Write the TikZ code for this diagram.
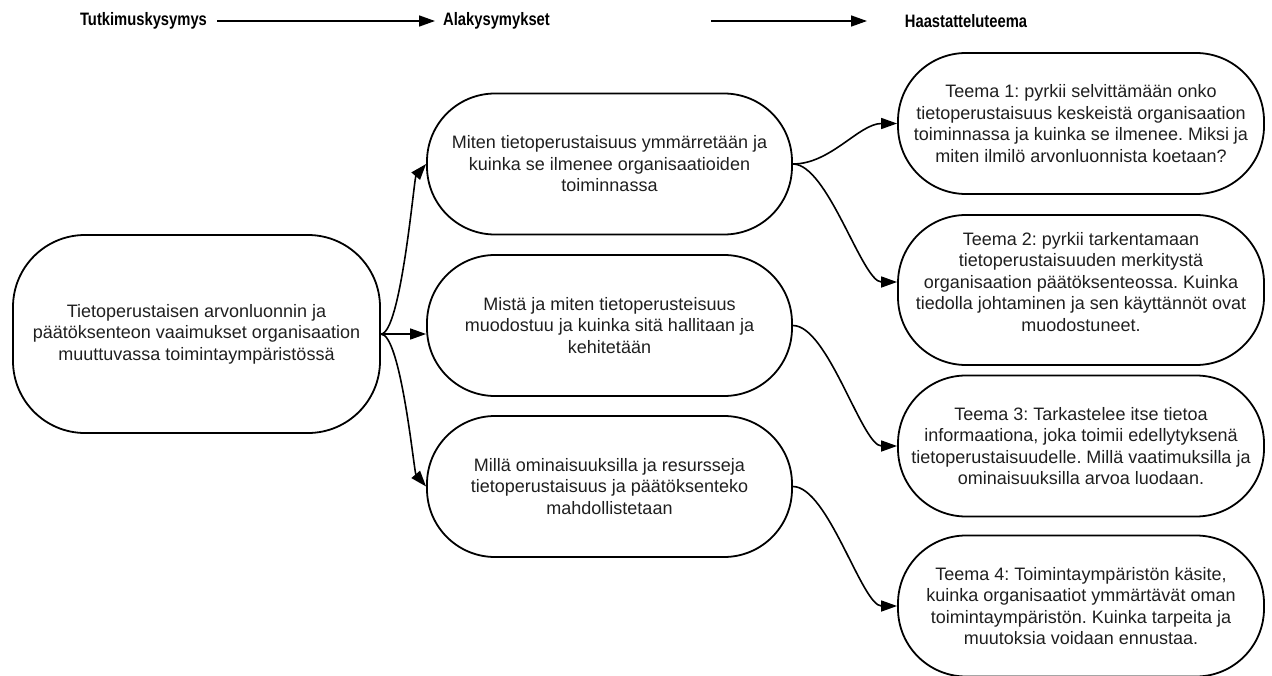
\documentclass[tikz,border=0pt]{standalone}
\usepackage{fontspec}
\setmainfont{Liberation Sans}
\newfontfamily\headfont{Liberation Sans}[FakeStretch=0.82]
\usetikzlibrary{arrows.meta}
\frenchspacing
\begin{document}
\begin{tikzpicture}[x=1pt,y=-1pt,
  box/.style={draw=black, line width=1.8pt, rounded corners=68pt,
    minimum width=365pt, minimum height=141pt, align=center, inner sep=0pt,
    font=\fontsize{18}{21.5}\selectfont, text=black!88},
  boxtext/.style={align=center, inner sep=0pt,
    font=\fontsize{18}{21.5}\selectfont, text=black!88},
  head/.style={font=\headfont\fontsize{18}{20}\selectfont\bfseries, inner sep=0pt},
  conn/.style={line width=1.6pt, -{Triangle[length=16pt,width=11pt]}},
]
\useasboundingbox (0,0) rectangle (1272,675);

% column headings
\node[head] (h1) at (143.5,21) {Tutkimuskysymys};
\node[head, anchor=west] (h2) at (443,21) {Alakysymykset};
\node[head] (h3) at (966,21) {Haastatteluteema};
\coordinate (a2s) at (711,21);
\coordinate (a2e) at (867,21);
\draw[conn] ([xshift=10pt]h1.east) -- ([xshift=-8pt]h2.west);
\draw[conn] (a2s) -- (a2e);

% research question
\node[box, minimum width=367pt, minimum height=198pt, rounded corners=72pt] (L) at (196.5,334)
  {Tietoperustaisen arvonluonnin ja\\päätöksenteon vaaimukset organisaation\\muuttuvassa toimintaympäristössä};

% sub-questions
\node[box] (m1) at (609.5,164)
  {Miten tietoperustaisuus ymmärretään ja\\kuinka se ilmenee organisaatioiden\\toiminnassa};
\node[box] (m2) at (609.5,325.5)
  {Mistä ja miten tietoperusteisuus\\muodostuu ja kuinka sitä hallitaan ja\\kehitetään};
\node[box] (m3) at (609.5,486.5)
  {Millä ominaisuuksilla ja resursseja\\tietoperustaisuus ja päätöksenteko\\mahdollistetaan};

% interview themes
\node[box, minimum width=366pt] (r1) at (1081,123.5)
  {Teema 1: pyrkii selvittämään onko\\tietoperustaisuus keskeistä organisaation\\toiminnassa ja kuinka se ilmenee. Miksi ja\\miten ilmilö arvonluonnista koetaan?};
\node[box, minimum width=366pt, minimum height=150pt] (r2) at (1081,290) {};
\node[boxtext] (r2t) at (1081,282)
  {Teema 2: pyrkii tarkentamaan\\tietoperustaisuuden merkitystä\\organisaation päätöksenteossa. Kuinka\\tiedolla johtaminen ja sen käyttännöt ovat\\muodostuneet.};
\node[box, minimum width=366pt] (r3) at (1081,446)
  {Teema 3: Tarkastelee itse tietoa\\informaationa, joka toimii edellytyksenä\\tietoperustaisuudelle. Millä vaatimuksilla ja\\ominaisuuksilla arvoa luodaan.};
\node[box, minimum width=366pt] (r4) at (1081,606)
  {Teema 4: Toimintaympäristön käsite,\\kuinka organisaatiot ymmärtävät oman\\toimintaympäristön. Kuinka tarpeita ja\\muutoksia voidaan ennustaa.};

% connectors
\draw[conn] (L.east) .. controls +(20,0) and +(-12,14) .. (m1.west);
\draw[conn] (L.east) -- (L.east -| m2.west);
\draw[conn] (L.east) .. controls +(20,0) and +(-12,-14) .. (m3.west);
\draw[conn] (m1.east) .. controls +(38,0) and +(-38,0) .. (r1.west);
\draw[conn] (m1.east) .. controls +(35,0) and +(-35,0) .. ([yshift=8pt]r2.west);
\draw[conn] (m2.east) .. controls +(35,0) and +(-35,0) .. (r3.west);
\draw[conn] (m3.east) .. controls +(35,0) and +(-35,0) .. (r4.west);
\end{tikzpicture}
\end{document}
